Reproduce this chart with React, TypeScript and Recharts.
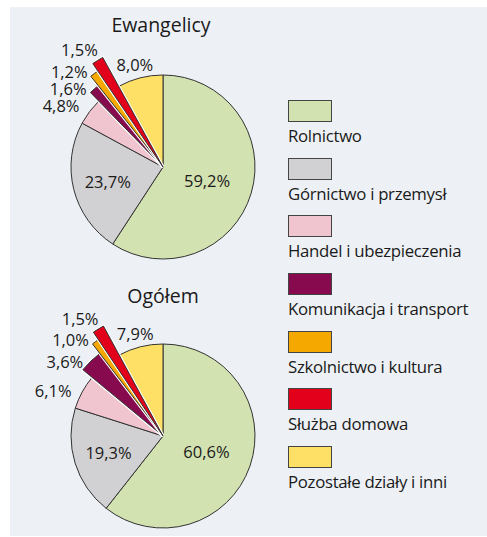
import React from 'react';
import { PieChart, Pie, Cell, Legend } from 'recharts';

const categories = [
  'Rolnictwo',
  'Górnictwo i przemysł',
  'Handel i ubezpieczenia',
  'Komunikacja i transport',
  'Szkolnictwo i kultura',
  'Służba domowa',
  'Pozostałe działy i inni',
];
const ewangelicy = [59.2, 23.7, 4.8, 1.6, 1.2, 1.5, 8.0];
const ogolem = [60.6, 19.3, 6.1, 3.6, 1.0, 1.5, 7.9];
const titles = ['Ewangelicy', 'Ogółem'];

const colors = ['#d3e2b1', '#d1d1d3', '#f0c5d0', '#870a4f', '#f5a800', '#e2001a', '#ffe066'];
// exploded slices: index -> outer radius
const exploded: [number, number][] = [
  [3, 104],
  [4, 116],
  [5, 125],
];
const R = 92;
const labelR = [46, 57, 119, 123, 134, 144, 106];
const labelDA = [0, 0, 6, 9, 8, 4, 1];

const FONT = '"Open Sans", sans-serif';
const RAD = Math.PI / 180;

const toData = (vals: number[]) => categories.map((name, i) => ({ name, value: vals[i] }));

const renderLabel = (p: any) => {
  const a = (p.midAngle + labelDA[p.index]) * RAD;
  const r = labelR[p.index];
  const x = p.cx + Math.cos(-a) * r;
  const y = p.cy + Math.sin(-a) * r;
  return (
    <text x={x} y={y} textAnchor="middle" dominantBaseline="central" fill="#1a1a1a" fontSize={16.5} fontFamily={FONT}>
      {p.value.toFixed(1).replace('.', ',')}%
    </text>
  );
};

const LegendContent = () => (
  <div style={{ fontFamily: FONT, fontSize: 16.8, color: '#1a1a1a' }}>
    {categories.map((c, i) => (
      <div key={c} style={{ height: 57.7 }}>
        <div style={{ width: 42, height: 20, background: colors[i], border: '1px solid #444' }} />
        <div style={{ marginTop: 3, lineHeight: '21px', whiteSpace: 'nowrap', letterSpacing: -0.3 }}>{c}</div>
      </div>
    ))}
  </div>
);

function pies(vals: number[], cy: number, key: string) {
  const data = toData(vals);
  const out: React.ReactNode[] = [
    <Pie
      key={key + 'main'}
      data={data}
      dataKey="value"
      cx={163}
      cy={cy}
      outerRadius={R}
      startAngle={90}
      endAngle={-270}
      stroke="#333"
      strokeWidth={1}
      label={renderLabel}
      labelLine={false}
      isAnimationActive={false}
    >
      {data.map((d, i) => (
        <Cell key={i} fill={colors[i]} />
      ))}
    </Pie>,
  ];
  exploded.forEach(([idx, r]) => {
    out.push(
      <Pie
        key={key + 'halo' + idx}
        data={data}
        dataKey="value"
        cx={163}
        cy={cy}
        outerRadius={r}
        startAngle={90}
        endAngle={-270}
        isAnimationActive={false}
      >
        {data.map((d, i) => (
          <Cell key={i} fill={i === idx ? '#fff' : 'none'} stroke={i === idx ? '#fff' : 'none'} strokeWidth={3} />
        ))}
      </Pie>,
      <Pie
        key={key + 'exp' + idx}
        data={data}
        dataKey="value"
        cx={163}
        cy={cy}
        outerRadius={r}
        startAngle={90}
        endAngle={-270}
        isAnimationActive={false}
      >
        {data.map((d, i) => (
          <Cell key={i} fill={i === idx ? colors[i] : 'none'} stroke={i === idx ? '#333' : 'none'} strokeWidth={1} />
        ))}
      </Pie>
    );
  });
  return out;
}

export default function App() {
  return (
    <div style={{ position: 'absolute', left: 0, top: 0, width: 487, height: 537, background: '#fff' }}>
      <div style={{ position: 'absolute', left: 10, top: 7, width: 477, height: 529, background: '#edf1f5' }} />
      <div style={{ position: 'absolute', left: 0, top: 0 }}>
        <PieChart width={487} height={537} margin={{ top: 0, right: 0, bottom: 0, left: 0 }}>
          <text x={161} y={32} textAnchor="middle" fontSize={19.5} fontFamily={FONT} fill="#1a1a1a">
            {titles[0]}
          </text>
          <text x={163} y={303} textAnchor="middle" fontSize={19.5} fontFamily={FONT} fill="#1a1a1a">
            {titles[1]}
          </text>
          {pies(ewangelicy, 167, 'e')}
          {pies(ogolem, 436, 'o')}
          <Legend
            content={<LegendContent />}
            wrapperStyle={{ position: 'absolute', left: 288, top: 100, width: 195, bottom: 'auto' }}
          />
        </PieChart>
      </div>
    </div>
  );
}
